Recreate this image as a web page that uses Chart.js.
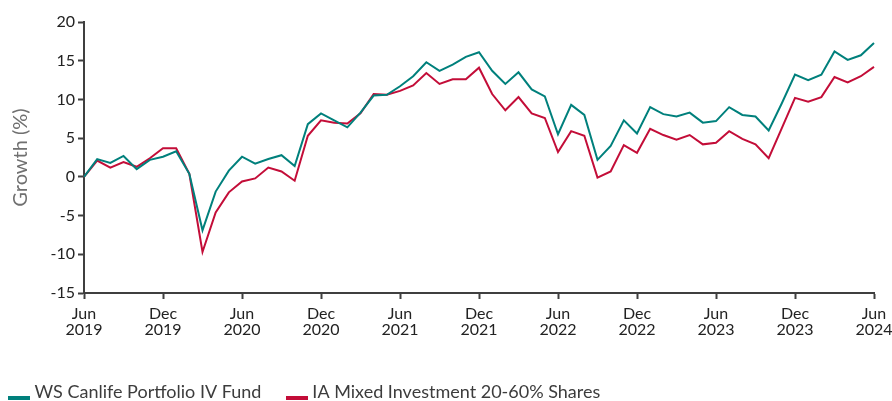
<!DOCTYPE html>
<html>
<head>
<meta charset="utf-8">
<script src="https://cdn.jsdelivr.net/npm/chart.js@4/dist/chart.umd.min.js"></script>
<style>
  html, body { margin: 0; padding: 0; background: #fff; }
  #wrap { width: 892px; height: 401px; position: relative; }
</style>
</head>
<body>
<div id="wrap"><canvas id="growthChart"></canvas></div>
<script>
// Monthly points, Jun 2019 .. Jun 2024
const monthNames = ['Jan', 'Feb', 'Mar', 'Apr', 'May', 'Jun', 'Jul', 'Aug', 'Sep', 'Oct', 'Nov', 'Dec'];
const months = [];
for (let i = 0; i <= 60; i++) {
    const m = (5 + i) % 12;
    const y = 2019 + Math.floor((5 + i) / 12);
    months.push(monthNames[m] + ' ' + y);
}

const fundName = 'WS Canlife Portfolio IV Fund';
const sectorName = 'IA Mixed Investment 20-60% Shares';

const fundValues = [
    0.0, 2.3, 1.8, 2.7, 1.0, 2.2, 2.6, 3.3, 0.4, -6.9, -1.9, 0.8,
    2.6, 1.7, 2.3, 2.8, 1.4, 6.8, 8.2, 7.3, 6.4, 8.3, 10.5, 10.6,
    11.7, 13.0, 14.8, 13.7, 14.5, 15.5, 16.1, 13.7, 12.0, 13.5, 11.3, 10.4,
    5.5, 9.3, 8.0, 2.2, 4.0, 7.3, 5.6, 9.0, 8.1, 7.8, 8.3, 7.0,
    7.2, 9.0, 8.0, 7.8, 6.0, 9.5, 13.2, 12.5, 13.2, 16.2, 15.1, 15.7,
    17.3
];
const sectorValues = [
    0.0, 2.1, 1.2, 1.9, 1.3, 2.4, 3.7, 3.7, 0.4, -9.7, -4.6, -2.0,
    -0.6, -0.2, 1.2, 0.7, -0.5, 5.3, 7.3, 7.0, 6.9, 8.2, 10.7, 10.6,
    11.1, 11.8, 13.4, 12.0, 12.6, 12.6, 14.1, 10.7, 8.6, 10.3, 8.2, 7.6,
    3.2, 5.9, 5.3, -0.1, 0.7, 4.1, 3.1, 6.2, 5.4, 4.8, 5.4, 4.2,
    4.4, 5.9, 4.9, 4.2, 2.4, 6.3, 10.2, 9.7, 10.3, 12.9, 12.2, 13.0,
    14.2
];

const yMin = -15;
const yMax = 20;
const yStep = 5;

const tealColor = '#00807c';
const redColor = '#c30d38';
const axisColor = '#3f3f3f';
const fontFamily = 'Lato, "Noto Sans", sans-serif';

// legend marker: a thin bar sitting under the text baseline
function legendBar(color) {
    const c = document.createElement('canvas');
    c.width = 22;
    c.height = 16;
    const g = c.getContext('2d');
    g.fillStyle = color;
    g.fillRect(0, 12, 22, 4);
    return c;
}

// nudge the legend so it starts near the left edge and sits lower
const legendNudge = {
    id: 'legendNudge',
    afterLayout(chart) {
        if (chart.legend) {
            chart.legend.left = -16.5;
            chart.legend.top += 10;
        }
    }
};

const ctx = document.getElementById('growthChart').getContext('2d');
new Chart(ctx, {
    type: 'line',
    data: {
        labels: months,
        datasets: [
            {
                label: fundName,
                data: fundValues,
                borderColor: tealColor,
                backgroundColor: tealColor,
                borderWidth: 2,
                pointRadius: 0,
                tension: 0,
                pointStyle: legendBar(tealColor)
            },
            {
                label: sectorName,
                data: sectorValues,
                borderColor: redColor,
                backgroundColor: redColor,
                borderWidth: 2,
                pointRadius: 0,
                tension: 0,
                pointStyle: legendBar(redColor)
            }
        ]
    },
    plugins: [legendNudge],
    options: {
        responsive: true,
        maintainAspectRatio: false,
        animation: false,
        layout: { padding: { left: 0, right: 18, top: 22, bottom: 0 } },
        plugins: {
            tooltip: { enabled: false },
            legend: {
                position: 'bottom',
                align: 'start',
                labels: {
                    usePointStyle: true,
                    pointStyleWidth: 13,
                    padding: 29,
                    color: '#3c3c3c',
                    font: { family: fontFamily, size: 18 }
                }
            }
        },
        scales: {
            x: {
                grid: {
                    drawOnChartArea: false,
                    drawTicks: true,
                    tickLength: 6,
                    tickWidth: 2,
                    tickColor: axisColor
                },
                border: { color: axisColor, width: 2 },
                ticks: {
                    autoSkip: false,
                    maxRotation: 0,
                    padding: 6,
                    color: '#222',
                    font: { family: fontFamily, size: 16, lineHeight: 1.05 },
                    callback: function (value) {
                        const label = this.getLabelForValue(value);
                        if (label.startsWith('Jun') || label.startsWith('Dec')) {
                            return label.split(' ');
                        }
                        return null;
                    }
                },
                afterFit: function (scale) {
                    scale.height = 51;
                    scale.paddingLeft = 0;
                    scale.paddingRight = 0;
                }
            },
            y: {
                min: yMin,
                max: yMax,
                grid: {
                    drawOnChartArea: false,
                    drawTicks: true,
                    tickLength: 6,
                    tickWidth: 2,
                    tickColor: axisColor
                },
                border: { color: axisColor, width: 2 },
                ticks: {
                    stepSize: yStep,
                    padding: 3,
                    color: '#222',
                    font: { family: fontFamily, size: 16 }
                },
                title: {
                    display: true,
                    text: 'Growth (%)',
                    color: '#707070',
                    font: { family: fontFamily, size: 20 },
                    padding: { top: 9, bottom: 0 }
                },
                afterFit: function (scale) { scale.width = 84; }
            }
        }
    }
});
</script>
</body>
</html>
